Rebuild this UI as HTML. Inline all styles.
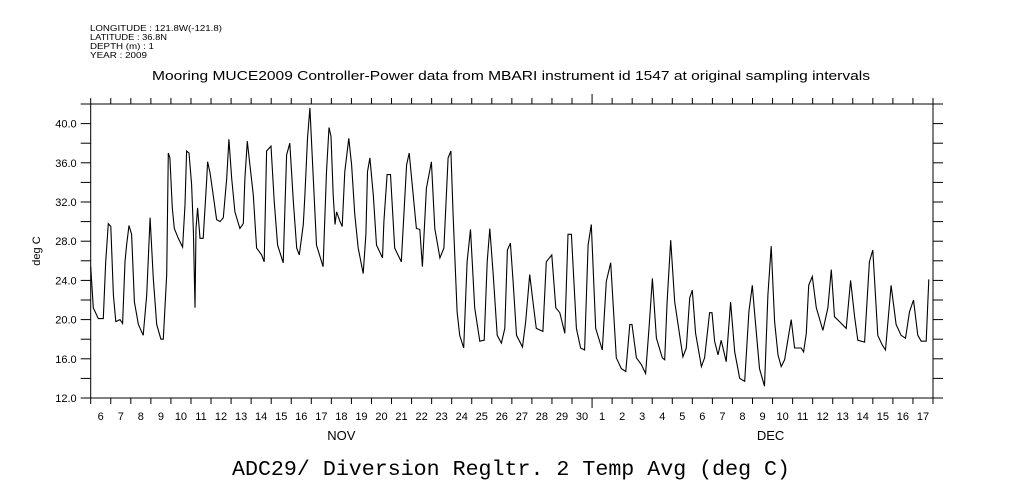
<!DOCTYPE html>
<html><head><meta charset="utf-8"><style>
html,body{margin:0;padding:0;background:#fff;}
svg{display:block;}
text{fill:#000;}
</style></head><body>
<svg id="chart" width="1009" height="504" viewBox="0 0 1009 504" xmlns="http://www.w3.org/2000/svg">
<g font-family="Liberation Sans, sans-serif" font-size="8.5">
<text x="90" y="31" textLength="132" lengthAdjust="spacingAndGlyphs">LONGITUDE : 121.8W(-121.8)</text>
<text x="90" y="40" textLength="77" lengthAdjust="spacingAndGlyphs">LATITUDE : 36.8N</text>
<text x="90" y="49" textLength="64" lengthAdjust="spacingAndGlyphs">DEPTH (m) : 1</text>
<text x="90" y="58" textLength="57" lengthAdjust="spacingAndGlyphs">YEAR : 2009</text>
</g>
<text x="152" y="80" textLength="718" lengthAdjust="spacingAndGlyphs" font-family="Liberation Sans, sans-serif" font-size="12.5">Mooring MUCE2009 Controller-Power data from MBARI instrument id 1547 at original sampling intervals</text>
<text x="40" y="251" text-anchor="middle" transform="rotate(-90 40 251)" font-family="Liberation Sans, sans-serif" font-size="11">deg C</text>
<text x="232" y="475" textLength="558" lengthAdjust="spacingAndGlyphs" font-family="Liberation Mono, monospace" font-size="21">ADC29/ Diversion Regltr. 2 Temp Avg (deg C)</text>
<rect x="90.7" y="104" width="842.3" height="294" fill="none" stroke="#000" stroke-width="1"/>
<g id="axes"></g>
<path id="series" fill="none" stroke="#000" stroke-width="1.1"/>
</svg>
<script>
const tDays = [0,.13,.38,.63,.75,.88,1.0,1.13,1.25,1.46,1.59,1.71,1.79,1.91,2.04,2.18,2.38,2.62,2.79,2.96,3.12,3.29,3.5,3.62,3.79,3.87,3.95,4.07,4.17,4.37,4.58,4.7,4.78,4.9,5.03,5.12,5.2,5.25,5.33,5.45,5.61,5.78,5.83,5.95,6.11,6.28,6.45,6.61,6.78,6.89,7.03,7.19,7.44,7.61,7.69,7.81,7.94,8.11,8.27,8.52,8.65,8.77,8.99,9.15,9.32,9.6,9.77,9.93,10.1,10.27,10.4,10.6,10.68,10.81,10.93,11.1,11.26,11.59,11.76,11.88,11.98,12.09,12.18,12.26,12.43,12.54,12.67,12.87,13.01,13.17,13.34,13.59,13.72,13.8,13.92,14.09,14.25,14.55,
14.62,14.78,14.95,15.16,15.49,15.75,15.88,16.08,16.24,16.41,16.54,16.74,16.99,17.16,17.41,17.61,17.82,17.96,18.07,18.27,18.40,18.60,18.77,18.94,19.15,19.40,19.62,19.77,19.90,20.07,20.27,20.48,20.65,20.78,20.93,21.06,21.23,21.53,21.69,21.89,22.09,22.22,22.55,22.72,22.99,23.19,23.39,23.64,23.80,23.97,24.22,24.43,24.63,24.80,24.96,25.18,25.51,25.71,25.93,26.21,26.46,26.68,26.88,26.99,27.21,27.46,27.67,27.84,28.01,28.21,28.50,28.62,28.74,28.92,29.12,
29.53,29.70,29.87,30.00,30.16,30.45,30.61,30.86,30.98,31.11,31.28,31.44,31.69,31.91,32.11,32.36,32.61,32.82,32.99,33.10,33.35,33.60,33.77,33.93,34.10,34.27,34.43,34.60,34.93,35.10,35.43,35.55,35.68,35.80,35.98,36.18,36.51,36.76,36.93,37.09,37.34,37.67,37.89,38.09,38.25,38.59,38.83,39.00,39.25,39.47,39.63,39.91,40.16,40.41,40.63,40.83,41.03,41.24,41.41,41.66,41.79];
const tempC = [25.4,21.2,20.1,20.1,25.9,29.8,29.5,22.5,19.8,20.0,19.6,25.9,27.6,29.6,28.7,21.8,19.5,18.4,22.5,30.4,24.2,19.5,18.0,18.0,24.6,37.0,36.5,31.4,29.3,28.3,27.4,31.7,37.2,37.0,33.8,29.0,21.2,29.3,31.4,28.3,28.3,34.1,36.1,35.0,32.7,30.2,30.0,30.4,34.4,38.4,34.4,31.0,29.3,29.8,34.4,38.2,35.8,32.7,27.3,26.6,25.9,37.2,37.7,32.1,27.6,25.8,36.8,38.0,32.1,27.3,26.6,29.7,32.7,38.5,41.6,34.4,27.6,25.4,35.1,39.6,38.7,32.7,29.7,31.0,30.0,29.5,35.1,38.5,35.8,30.7,27.3,24.7,28.7,35.1,36.5,32.7,27.6,26.3,
30.0,34.8,34.8,27.3,25.9,35.8,37.0,32.7,29.3,29.2,25.4,33.4,36.1,29.3,26.3,27.3,36.5,37.2,30.7,20.8,18.4,17.1,25.9,29.2,21.2,17.8,17.9,25.9,29.3,24.6,18.4,17.6,19.1,27.1,27.8,23.9,18.4,17.2,19.8,24.6,21.2,19.1,18.8,25.9,26.6,21.2,20.7,18.6,28.7,28.7,19.1,17.1,16.9,27.6,29.7,19.1,16.9,23.9,25.8,16.1,15.0,14.7,19.5,19.5,16.1,15.4,14.5,19.1,24.2,18.1,16.1,15.9,21.8,28.1,21.8,
16.2,17.1,22.2,23.0,18.6,15.2,16.1,20.7,20.7,17.8,16.4,17.9,15.7,21.8,16.7,14.0,13.7,20.8,23.5,20.8,15.0,13.2,22.5,27.5,19.8,16.4,15.2,15.9,20.0,17.1,17.1,16.7,18.6,23.5,24.4,21.2,18.9,21.2,25.1,20.3,19.8,19.1,24.0,20.3,17.9,17.7,25.9,27.1,18.4,17.4,16.9,23.5,19.5,18.4,18.1,20.8,22.0,18.4,17.8,17.8,24.1];
const yTickValues = [12,14,16,18,20,22,24,26,28,30,32,34,36,38,40,42];
const yLabelValues = [12,16,20,24,28,32,36,40];
const dayLabels = ["6","7","8","9","10","11","12","13","14","15","16","17","18","19","20","21","22","23","24","25","26","27","28","29","30","1","2","3","4","5","6","7","8","9","10","11","12","13","14","15","16","17"];
const monthLabels = ["NOV","DEC"];
const monthStartDay = [0,25];

const X0=90.7, X1=933, Y0=398, Y1=104, TMIN=0, TMAX=42, VMIN=12, VMAX=42;
const xs = t => X0 + (t-TMIN)/(TMAX-TMIN)*(X1-X0);
const ys = v => Y0 - (v-VMIN)/(VMAX-VMIN)*(Y0-Y1);
const NS="http://www.w3.org/2000/svg";
const axes=document.getElementById('axes');
function mk(tag,attrs){const e=document.createElementNS(NS,tag);for(const k in attrs)e.setAttribute(k,attrs[k]);axes.appendChild(e);return e;}

let d='';
for(let i=0;i<tDays.length;i++){d+=(i?'L':'M')+xs(tDays[i]).toFixed(1)+' '+ys(tempC[i]).toFixed(1);}
document.getElementById('series').setAttribute('d',d);

yTickValues.forEach(v=>{
  const y=ys(v);
  const a=mk('line',{x1:X0-10,x2:X0,y1:y,y2:y,stroke:'#000'});
  
  
  const b=mk('line',{x1:X1,x2:X1+10,y1:y,y2:y,stroke:'#000'});
  
  
});
yLabelValues.forEach(v=>{
  const t=mk('text',{x:X0-14,y:ys(v)+4,'text-anchor':'end','font-family':'Liberation Sans, sans-serif','font-size':'11'});
  t.textContent=v.toFixed(1);
  
  
});
for(let i=0;i<=dayLabels.length;i++){
  const x=xs(i);
  const big=monthStartDay.includes(i)&&i>0;
  const a=mk('line',{x1:x,x2:x,y1:Y0,y2:Y0+(big?10:6),stroke:'#000'});
  
  
  const b=mk('line',{x1:x,x2:x,y1:Y1-(big?10:6),y2:Y1,stroke:'#000'});
  
  
}
dayLabels.forEach((s,i)=>{
  const t=mk('text',{x:xs(i+0.5),y:420,'text-anchor':'middle','font-family':'Liberation Sans, sans-serif','font-size':'11'});
  t.textContent=s;
  
  
});
const monthCenters=[12.5,33.9];
monthLabels.forEach((s,i)=>{
  const t=mk('text',{x:xs(monthCenters[i]),y:440,'text-anchor':'middle','font-family':'Liberation Sans, sans-serif','font-size':'13'});
  t.textContent=s;
  
  
});
</script>
</body></html>
